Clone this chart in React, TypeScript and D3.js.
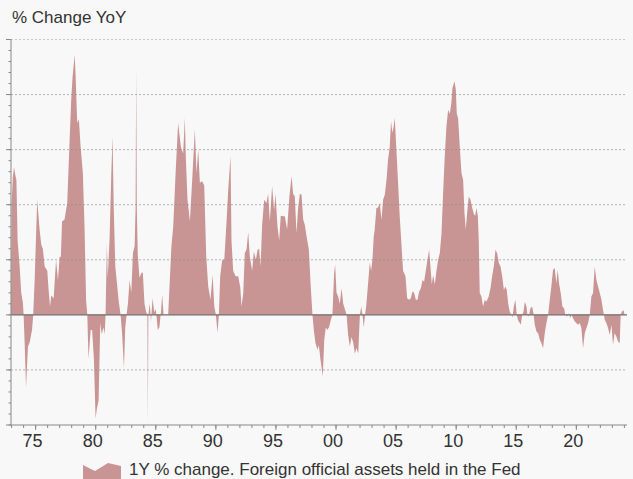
import * as d3 from 'd3';

// 1Y % change, foreign official assets held in the Fed
const s1970s: [number, number][] = [
  [1972.95, 0], [1973.0, 40], [1973.1, 50], [1973.2, 53.6], [1973.3, 51], [1973.4, 49], [1973.5, 27],
  [1973.67, 17.6], [1973.8, 8], [1973.94, 4.4], [1974.0, 0], [1974.1, -12], [1974.2, -26.5],
  [1974.36, -11.5], [1974.5, -10], [1974.7, -5.5], [1974.8, 0], [1974.92, 12.7], [1975.13, 41.8],
  [1975.33, 31], [1975.47, 25.5], [1975.6, 24], [1975.75, 17.6], [1975.97, 16], [1976.08, 9],
  [1976.2, 3], [1976.3, 7], [1976.5, 6], [1976.7, 20], [1976.86, 12.7], [1977.0, 21.2], [1977.1, 21],
  [1977.2, 34], [1977.4, 34.5], [1977.63, 40.6], [1977.83, 63.6], [1977.96, 78], [1978.08, 86.7],
  [1978.25, 94.5], [1978.33, 86.7], [1978.46, 69.7], [1978.6, 71], [1978.74, 61.2], [1978.93, 51.5],
  [1979.07, 32], [1979.2, 5.4], [1979.3, 0], [1979.4, -16], [1979.58, -5.5], [1979.7, -5.5],
  [1979.85, -16], [1979.99, -37.6],
];

const s1980s: [number, number][] = [
  [1980.1, -34], [1980.24, -31], [1980.38, -3], [1980.5, -7], [1980.65, -4.5], [1980.75, -7],
  [1980.82, 0], [1980.93, 26], [1981.0, 13.5], [1981.15, 27], [1981.3, 51.5], [1981.4, 64.8],
  [1981.5, 39], [1981.63, 17.6], [1981.77, 11.5], [1981.9, 5.4], [1982.07, 0], [1982.2, -7],
  [1982.35, -19.4], [1982.46, -4.5], [1982.57, 0], [1982.68, 4], [1982.82, 12.7], [1982.96, 8],
  [1983.1, 22.5], [1983.24, 25], [1983.32, 39], [1983.37, 90], [1983.42, 39], [1983.5, 22],
  [1983.64, 13.5], [1983.78, 15], [1983.92, 15.5], [1984.06, 4], [1984.2, 1], [1984.3, 0],
  [1984.34, -39], [1984.38, 0], [1984.5, 4], [1984.6, -2.5], [1984.73, 6], [1984.87, 1], [1985.0, 2],
  [1985.17, -5.5], [1985.3, -4.5], [1985.45, 2], [1985.53, 7.3], [1985.65, 0], [1986.03, 0],
  [1986.3, 24.8], [1986.45, 32], [1986.65, 51.5], [1986.86, 69.7], [1987.09, 61], [1987.28, 58.6],
  [1987.42, 71.5], [1987.5, 57], [1987.64, 41.8], [1987.84, 34], [1988.03, 49], [1988.25, 67.3],
  [1988.39, 51.5], [1988.53, 60], [1988.67, 48], [1988.86, 48.5], [1989.03, 47], [1989.2, 21],
  [1989.36, 10.5], [1989.55, 5.5], [1989.73, 14.5], [1989.87, 3],
];

const s1990s: [number, number][] = [
  [1990.0, 0], [1990.14, -6.5], [1990.25, 0], [1990.36, 14], [1990.53, 20], [1990.7, 20],
  [1990.89, 34], [1991.03, 45.5], [1991.22, 57.6], [1991.3, 27], [1991.44, 16], [1991.64, 14],
  [1991.86, 14], [1992.03, 10], [1992.14, 3], [1992.28, 8], [1992.41, 22.5], [1992.55, 23.6],
  [1992.69, 30], [1992.83, 21], [1993.02, 16], [1993.16, 23], [1993.33, 20], [1993.47, 23.6],
  [1993.6, 24], [1993.72, 17.6], [1993.85, 32.7], [1994.02, 41.8], [1994.21, 40.6], [1994.35, 44],
  [1994.49, 34], [1994.68, 46.7], [1994.85, 38], [1994.96, 44], [1995.13, 32], [1995.27, 27],
  [1995.4, 36], [1995.6, 35.8], [1995.74, 35.8], [1995.93, 31], [1996.12, 43], [1996.3, 50.3],
  [1996.43, 44], [1996.57, 43], [1996.71, 29.7], [1996.85, 39], [1996.99, 44], [1997.13, 43.6],
  [1997.27, 34.5], [1997.4, 32.7], [1997.55, 28.5], [1997.74, 23.6], [1997.88, 11.5], [1998.04, 0],
  [1998.15, -5.5], [1998.29, -10.3], [1998.46, -12.7], [1998.57, -11], [1998.7, -16],
  [1998.9, -22.4], [1999.02, -9], [1999.15, -4.5], [1999.26, -5.5], [1999.42, -4.5], [1999.56, -2],
  [1999.7, 0], [1999.84, 15], [1999.93, 18.2],
];

const s2000s: [number, number][] = [
  [2000.04, 8], [2000.18, 6.7], [2000.31, 4], [2000.46, 9.7], [2000.6, 4], [2000.74, 2],
  [2000.88, 0], [2001.0, -7], [2001.15, -11.5], [2001.29, -8], [2001.43, -10], [2001.57, -14],
  [2001.7, -12], [2001.85, -14], [2001.93, -5.5], [2001.99, 0], [2002.1, 3], [2002.2, 0],
  [2002.31, -4.5], [2002.42, 0], [2002.53, 4], [2002.67, 11.5], [2002.81, 19], [2002.92, 16],
  [2003.03, 20], [2003.14, 28.5], [2003.22, 31], [2003.36, 38.8], [2003.5, 39], [2003.64, 40.6],
  [2003.78, 34.5], [2003.92, 41.8], [2004.06, 43.6], [2004.2, 49], [2004.33, 56.4], [2004.47, 61],
  [2004.58, 70.3], [2004.69, 66], [2004.8, 68.5], [2004.89, 71.5], [2005.03, 59.4], [2005.17, 47.5],
  [2005.3, 35.8], [2005.44, 26], [2005.58, 16], [2005.78, 14], [2005.92, 6], [2006.08, 5.5],
  [2006.22, 6], [2006.36, 8.5], [2006.5, 8], [2006.64, 5.5], [2006.78, 5.5], [2006.92, 8.5],
  [2007.06, 9.7], [2007.2, 12.7], [2007.33, 12], [2007.47, 16], [2007.61, 20], [2007.75, 23.6],
  [2007.86, 17.6], [2007.97, 11], [2008.08, 14.5], [2008.22, 11], [2008.36, 16], [2008.5, 20],
  [2008.64, 22.5], [2008.78, 29.7], [2008.91, 44], [2009.05, 57.6], [2009.19, 68.5],
  [2009.33, 74.5], [2009.47, 73], [2009.6, 77], [2009.69, 82.4], [2009.86, 84.8], [2009.97, 81.8],
];

const s2010s: [number, number][] = [
  [2010.05, 73], [2010.16, 71.5], [2010.3, 61], [2010.44, 51.5], [2010.58, 49], [2010.69, 37],
  [2010.8, 31], [2010.91, 37], [2011.05, 43], [2011.19, 41.8], [2011.33, 39], [2011.47, 36.6],
  [2011.58, 36], [2011.69, 38.8], [2011.8, 36], [2011.88, 27], [2011.96, 8], [2012.1, 6.7],
  [2012.24, 3], [2012.38, 5.5], [2012.51, 4.8], [2012.71, 6.7], [2012.88, 10.3], [2012.99, 14],
  [2013.13, 17.6], [2013.27, 23.6], [2013.41, 22.4], [2013.55, 18.8], [2013.69, 17.6], [2013.83, 14],
  [2013.97, 9], [2014.1, 10.3], [2014.21, 9], [2014.33, 4], [2014.46, 1], [2014.6, 0], [2014.68, -1],
  [2014.8, 3], [2014.93, 5.5], [2015.04, 0], [2015.15, -2], [2015.3, -3], [2015.38, -3.6],
  [2015.49, 0], [2015.6, 1], [2015.71, 4.8], [2015.85, 3], [2015.93, 0], [2016.04, -0.6],
  [2016.18, 2.4], [2016.32, 3], [2016.43, 0.6], [2016.54, -3.6], [2016.68, -6], [2016.82, -6.7],
  [2016.96, -9], [2017.1, -10.3], [2017.23, -12.1], [2017.37, -6.7], [2017.51, -3], [2017.65, 0],
  [2017.79, 5.5], [2017.92, 10.3], [2018.06, 16.4], [2018.2, 17], [2018.34, 11.5], [2018.45, 16.4],
  [2018.56, 11.5], [2018.7, 7.9], [2018.84, 3], [2018.98, 2.4], [2019.09, 0], [2019.23, -0.6],
  [2019.37, 0.6], [2019.48, -1.2], [2019.59, 0], [2019.73, -1.2], [2019.87, -2.4],
];

const s2020s: [number, number][] = [
  [2020.0, -3], [2020.14, -3.6], [2020.28, -3], [2020.42, -4.8], [2020.56, -12.1], [2020.7, -6.7],
  [2020.84, -4.8], [2020.98, -3], [2021.12, 0], [2021.25, 6.7], [2021.39, 7.9], [2021.53, 17.6],
  [2021.67, 12.7], [2021.81, 10.3], [2021.95, 7.9], [2022.09, 5.5], [2022.22, 1.8], [2022.3, 0],
  [2022.36, -1.8], [2022.5, -3], [2022.64, -4.8], [2022.78, -7.3], [2022.92, -3.6], [2023.05, -10.9],
  [2023.19, -6.7], [2023.33, -7.9], [2023.47, -9.7], [2023.61, -10.3], [2023.69, 0], [2023.8, 1.2],
  [2023.91, 1.8], [2024.02, 0],
];

const series = [...s1970s, ...s1980s, ...s1990s, ...s2000s, ...s2010s, ...s2020s];

const xMajor = [1975, 1980, 1985, 1990, 1995, 2000, 2005, 2010, 2015, 2020];
const xMinor = d3.range(1973, 2025);
const yGrid = [-20, 20, 40, 60, 80];
const yMajor = [-40, -20, 0, 20, 40, 60, 80, 100];
const yMinor = d3.range(-40, 101, 4);

const W = 633;
const H = 479;
const left = 11;
const right = 625;
const top = 39.5;
const bottom = 425;
const FONT = "'Liberation Sans', Arial, Helvetica, sans-serif";
const FILL = '#c99494';

export default function App() {
  const x = d3.scaleLinear().domain([1972.95, 2024.05]).range([left, right]);
  const y = d3.scaleLinear().domain([-40, 100]).range([bottom, top]);

  const area = d3
    .area<[number, number]>()
    .x(d => x(d[0]))
    .y0(y(0))
    .y1(d => y(d[1]));

  const fmt = (d: number) => String(d % 100).padStart(2, '0');

  return (
    <svg
      width={W}
      height={H}
      style={{ position: 'absolute', left: 0, top: 0, display: 'block' }}
    >
      <rect width={W} height={H} fill="#f8f8f8" />

      <text x={12} y={23} fontFamily={FONT} fontSize={17} fill="#333">
        % Change YoY
      </text>

      {/* top border line */}
      <line x1={left} x2={right + 2} y1={y(100)} y2={y(100)} stroke="#c8c8c8" strokeDasharray="2,2" />

      <path d={area(series) ?? ''} fill={FILL} />

      {/* dotted grid */}
      {yGrid.map(v => (
        <line
          key={v}
          x1={left}
          x2={right + 2}
          y1={y(v)}
          y2={y(v)}
          stroke="#8f8f8f"
          strokeOpacity={0.75}
          strokeDasharray="2,2"
          strokeWidth={0.9}
        />
      ))}

      {/* zero line */}
      <line x1={left} x2={right + 2} y1={y(0)} y2={y(0)} stroke="#6e6e6e" strokeWidth={1.2} />

      {/* left axis */}
      <line x1={left} x2={left} y1={top} y2={bottom} stroke="#888" />
      {yMinor.map(v => (
        <line key={'ym' + v} x1={left - 2.5} x2={left} y1={y(v)} y2={y(v)} stroke="#888" />
      ))}
      {yMajor.map(v => (
        <line key={'yM' + v} x1={left - 5} x2={left} y1={y(v)} y2={y(v)} stroke="#888" />
      ))}

      {/* bottom axis */}
      <line x1={left} x2={right + 2} y1={bottom} y2={bottom} stroke="#888" strokeWidth={1.2} />
      {xMinor.map(v => (
        <line key={'xm' + v} x1={x(v)} x2={x(v)} y1={bottom} y2={bottom + 3} stroke="#888" />
      ))}
      {xMajor.map(v => (
        <line key={'xM' + v} x1={x(v)} x2={x(v)} y1={bottom} y2={bottom + 5} stroke="#888" />
      ))}
      {xMajor.map(v => (
        <text
          key={'xl' + v}
          x={x(v) - 3}
          y={447}
          textAnchor="middle"
          fontFamily={FONT}
          fontSize={18}
          fill="#333"
        >
          {fmt(v)}
        </text>
      ))}

      {/* legend */}
      <polygon points="83,465 95,471 108,463 121,466 121,479 83,479" fill={FILL} />
      <text x={129} y={474.5} fontFamily={FONT} fontSize={17} fill="#333">
        1Y % change. Foreign official assets held in the Fed
      </text>
    </svg>
  );
}
